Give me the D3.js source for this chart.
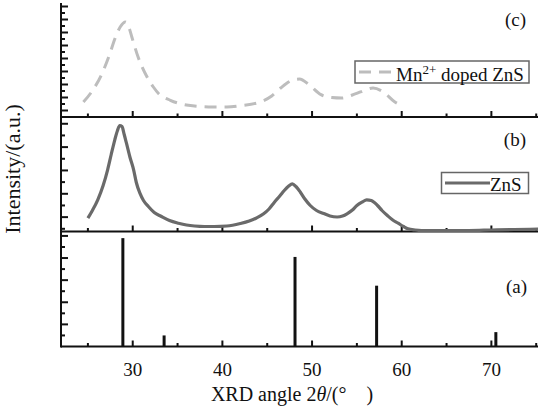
<!DOCTYPE html>
<html>
<head>
<meta charset="utf-8">
<script src="https://cdn.jsdelivr.net/npm/d3@7"></script>
<style>
  html, body { margin: 0; padding: 0; background: #fff; }
  svg { display: block; }
  text { font-family: "Liberation Serif", "Times New Roman", serif; fill: #111; }
</style>
</head>
<body>
<svg id="chart" width="538" height="417"></svg>
<script>
// ---- data ----
// x axis
const xMajorTicks = [30, 40, 50, 60, 70];
const xMinorTicks = [25, 35, 45, 55, 65, 75];

// (a) reference ZnS stick pattern
const stickAngle = [28.9, 33.5, 48.1, 57.2, 70.5];
const stickIntensity = [98, 10, 81, 55, 13];

// (b) undoped ZnS
const znsAngle = [25.0, 25.5, 26.1, 26.7, 27.2, 27.6, 28.0, 28.3, 28.55, 28.8, 29.05, 29.3, 29.7, 30.1, 30.4, 30.8,
  31.2, 31.75, 32.4, 33.2, 34.1, 35.1, 36.0, 36.9, 38.0, 39.1, 40.5, 42.0, 43.0, 43.8, 44.6, 45.2, 45.8, 46.4,
  46.9, 47.4, 47.8, 48.2, 48.7, 49.2, 49.8, 50.5, 51.3, 52.0, 52.8, 53.4, 53.9, 54.5, 55.0, 55.6, 56.1, 56.6,
  57.3, 57.8, 58.4, 59.0, 59.6, 60.2, 60.7, 61.5, 62.2, 65.0, 67.5, 70.0, 72.5, 75.3];
const znsIntensity = [13.3, 21, 31.7, 46, 61.7, 77, 91.7, 101, 106, 105, 97, 88.3, 74, 61.7, 49, 38.3,
  31, 25, 19, 15, 11, 8.3, 6.5, 5.5, 5, 5, 5.5, 8, 10.5, 13.5, 17.7, 22.5, 29.3, 35.5,
  41, 45.5, 47.7, 45, 39.3, 32.5, 26, 21, 18, 15.5, 14.5, 15.5, 17.7, 21.5, 26, 29.5, 31.7, 31,
  26, 21, 16, 11.5, 8.3, 5, 2.7, 1.5, 1, 1, 1, 1.5, 2, 2.3];

// (c) Mn2+ doped ZnS
const mnAngle = [24.5, 25.4, 26.5, 27.4, 28.0, 28.6, 29.2, 29.6, 29.9, 30.6, 31.6, 32.3, 32.9, 34.2, 36.2,
  38.9, 40.5, 42.0, 44.3, 45.5, 46.5, 47.6, 48.6, 49.7, 51.0, 52.2, 53.3, 54.5, 55.5, 56.8, 57.9, 59.2, 60.2];
const mnIntensity = [15, 25, 42, 62, 78, 90, 95, 89, 80, 60, 40, 30, 23.3, 16.7, 11.7,
  10, 10, 11.3, 15.3, 21, 29, 36, 38, 32, 22.3, 19.5, 19, 22, 25.3, 29, 25.3, 15.3, 10.7];

// ---- layout ----
const left = 61, right = 538;
const panels = {
  c: { top: 3,     bottom: 117,   domain: [0, 114],   ticks: d3.range(1, 18).map(k => 6.5 * k),  majorOdd: true },
  b: { top: 117,   bottom: 231.5, domain: [0, 114.5], ticks: d3.range(0, 10).map(k => 2.7 + 11.67 * k), majorOdd: false },
  a: { top: 231.5, bottom: 346.5, domain: [0, 104],   ticks: d3.range(1, 11).map(k => 10 * k), majorOdd: false }
};

const svg = d3.select("#chart");

const x = d3.scaleLinear().domain([22, 75.2]).range([left, right]);

for (const key of Object.keys(panels)) {
  const p = panels[key];
  p.y = d3.scaleLinear().domain(p.domain).range([p.bottom, p.top]);
}

// ---- x axes on the bottom of each panel, ticks pointing inward ----
for (const key of ["c", "b", "a"]) {
  const p = panels[key];
  const g = svg.append("g").attr("transform", `translate(0,${p.bottom})`);
  g.append("line").attr("x1", left).attr("x2", right).attr("y1", 0).attr("y2", 0)
    .attr("stroke", "#111").attr("stroke-width", 2);
  g.selectAll("line.maj").data(xMajorTicks).join("line").attr("class", "maj")
    .attr("x1", d => x(d)).attr("x2", d => x(d)).attr("y1", 0).attr("y2", -6)
    .attr("stroke", "#111").attr("stroke-width", 2);
  g.selectAll("line.min").data(xMinorTicks).join("line").attr("class", "min")
    .attr("x1", d => x(d)).attr("x2", d => x(d)).attr("y1", 0).attr("y2", -3.5)
    .attr("stroke", "#111").attr("stroke-width", 2);
}

// tick labels on the lowest axis
svg.append("g").selectAll("text").data(xMajorTicks).join("text")
  .attr("x", d => x(d)).attr("y", 376).attr("text-anchor", "middle")
  .attr("font-size", 19).text(d => d);

// ---- left axis with inward ticks ----
svg.append("line").attr("x1", left).attr("x2", left).attr("y1", 3).attr("y2", 347.5)
  .attr("stroke", "#111").attr("stroke-width", 2);
for (const key of ["c", "b", "a"]) {
  const p = panels[key];
  svg.append("g").selectAll("line").data(p.ticks).join("line")
    .attr("x1", left).attr("x2", (d, i) => {
      const major = p.majorOdd ? (i % 2 === 0) : (i % 2 === 1);
      return left + (major ? 7 : 4);
    })
    .attr("y1", d => p.y(d)).attr("y2", d => p.y(d))
    .attr("stroke", "#111").attr("stroke-width", 2);
}

// ---- (a) sticks ----
svg.append("g").selectAll("line").data(stickAngle).join("line")
  .attr("x1", d => x(d)).attr("x2", d => x(d))
  .attr("y1", panels.a.y(0)).attr("y2", (d, i) => panels.a.y(stickIntensity[i]))
  .attr("stroke", "#111").attr("stroke-width", 3);

// ---- (b) ZnS curve ----
const lineB = d3.line().x(d => x(d[0])).y(d => panels.b.y(d[1])).curve(d3.curveMonotoneX);
svg.append("path").datum(d3.zip(znsAngle, znsIntensity)).attr("d", lineB)
  .attr("fill", "none").attr("stroke", "#6a6a6a").attr("stroke-width", 3.2)
  .attr("stroke-linejoin", "round");

// ---- (c) Mn-doped curve ----
const lineC = d3.line().x(d => x(d[0])).y(d => panels.c.y(d[1])).curve(d3.curveMonotoneX);
svg.append("path").datum(d3.zip(mnAngle, mnIntensity)).attr("d", lineC)
  .attr("fill", "none").attr("stroke", "#bdbdbd").attr("stroke-width", 3)
  .attr("stroke-dasharray", "12,8");

// ---- panel labels ----
const labels = [["(c)", 526, 26], ["(b)", 526, 146], ["(a)", 527, 293]];
svg.append("g").selectAll("text").data(labels).join("text")
  .attr("x", d => d[1]).attr("y", d => d[2]).attr("text-anchor", "end")
  .attr("font-size", 19).text(d => d[0]);

// ---- legends ----
const legC = svg.append("g");
legC.append("rect").attr("x", 355).attr("y", 61).attr("width", 174).attr("height", 22)
  .attr("fill", "#fff").attr("stroke", "#666").attr("stroke-width", 1.5);
legC.append("line").attr("x1", 359).attr("x2", 393).attr("y1", 72).attr("y2", 72)
  .attr("stroke", "#bdbdbd").attr("stroke-width", 3).attr("stroke-dasharray", "12,8");
const tC = legC.append("text").attr("x", 396).attr("y", 80.5).attr("font-size", 19);
tC.append("tspan").text("Mn");
tC.append("tspan").attr("dy", -7).attr("font-size", 13).text("2+");
tC.append("tspan").attr("dy", 7).text(" doped ZnS");

const legB = svg.append("g");
legB.append("rect").attr("x", 441.5).attr("y", 172.5).attr("width", 87).attr("height", 21)
  .attr("fill", "#fff").attr("stroke", "#666").attr("stroke-width", 1.5);
legB.append("line").attr("x1", 445).attr("x2", 490).attr("y1", 183).attr("y2", 183)
  .attr("stroke", "#6a6a6a").attr("stroke-width", 3);
legB.append("text").attr("x", 490).attr("y", 190.5).attr("font-size", 19).text("ZnS");

// ---- axis titles ----
const xt = svg.append("text").attr("x", 292).attr("y", 401).attr("text-anchor", "middle").attr("font-size", 20);
xt.append("tspan").text("XRD angle 2");
xt.append("tspan").attr("font-style", "italic").text("θ");
xt.append("tspan").text("/(°\u2003)");

svg.append("text").attr("transform", "translate(20,169) rotate(-90)")
  .attr("text-anchor", "middle").attr("font-size", 22).text("Intensity/(a.u.)");
</script>
</body>
</html>
